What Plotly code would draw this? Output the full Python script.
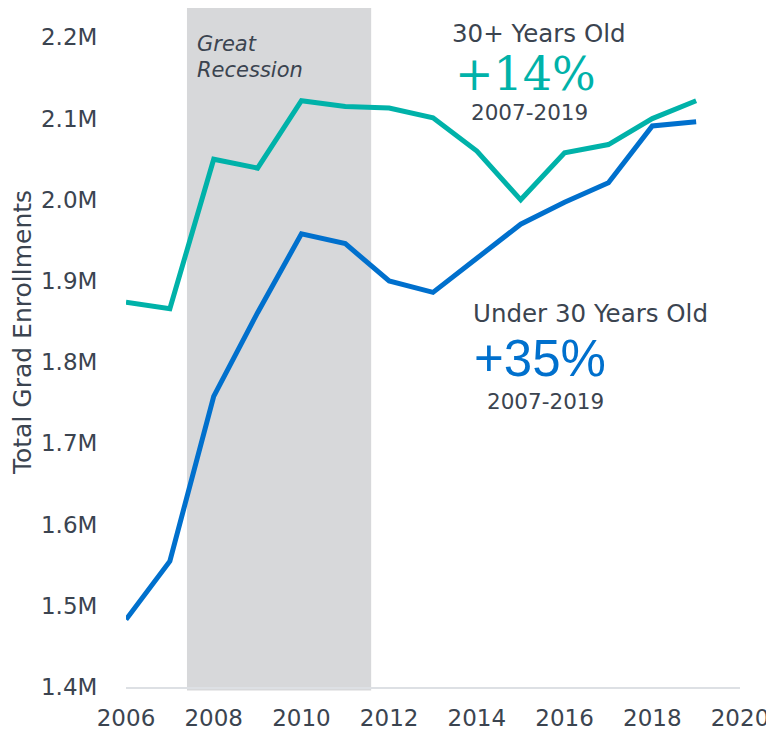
import plotly.graph_objects as go

years = [2006, 2007, 2008, 2009, 2010, 2011, 2012, 2013, 2014, 2015, 2016, 2017, 2018, 2019]
over30 = [1.874, 1.866, 2.050, 2.039, 2.122, 2.115, 2.113, 2.101, 2.060, 2.000, 2.058, 2.068, 2.100, 2.122]
under30 = [1.483, 1.555, 1.758, 1.861, 1.958, 1.946, 1.900, 1.886, 1.928, 1.970, 1.997, 2.021, 2.091, 2.096]
over30 = [v * 1e6 for v in over30]
under30 = [v * 1e6 for v in under30]
ytickvals = [1.4e6, 1.5e6, 1.6e6, 1.7e6, 1.8e6, 1.9e6, 2.0e6, 2.1e6, 2.2e6]
yticktext = ["1.4M", "1.5M", "1.6M", "1.7M", "1.8M", "1.9M", "2.0M", "2.1M", "2.2M"]

recession = [2007.39, 2011.59]
teal = "#00B2A9"
blue = "#0070CD"
txt = "#3B4450"

fig = go.Figure()
fig.add_shape(type="rect", xref="x", yref="paper", x0=recession[0], x1=recession[1],
              y0=-0.005, y1=1, fillcolor="#D7D8DA", line_width=0, layer="below")
fig.add_trace(go.Scatter(x=years, y=over30, mode="lines", line=dict(color=teal, width=5),
                         name="30+ Years Old", showlegend=False))
fig.add_trace(go.Scatter(x=years, y=under30, mode="lines", line=dict(color=blue, width=5),
                         name="Under 30 Years Old", showlegend=False))

def ann(text, x, y, size, color=txt, family="DejaVu Sans", xanchor="center"):
    fig.add_annotation(text=text, x=x, y=y, xref="x", yref="y", showarrow=False,
                       font=dict(size=size, color=color, family=family),
                       xanchor=xanchor, yanchor="middle", borderpad=0)

ann("<i>Great</i>", 2007.60, 2.1919e6, 21, xanchor="left")
ann("<i>Recession</i>", 2007.60, 2.1599e6, 21, xanchor="left")
ann("30+ Years Old", 2015.42, 2.2054e6, 24.5)
ann("+14%", 2015.10, 2.1550e6, 46, color=teal, family="DejaVu Serif")
ann("2007-2019", 2015.21, 2.1070e6, 21.5)
ann("Under 30 Years Old", 2016.58, 1.8594e6, 24.5)
ann("+35%", 2015.45, 1.8040e6, 51, color=blue, family="Liberation Sans")
ann("2007-2019", 2015.56, 1.7515e6, 21.5)

fig.add_annotation(text="Total Grad Enrollments", xref="paper", yref="paper",
                   x=-0.1694, y=0.5228, textangle=-90, showarrow=False,
                   xanchor="center", yanchor="middle",
                   font=dict(size=25, color=txt, family="DejaVu Sans"))

fig.update_layout(
    width=766, height=722,
    margin=dict(l=118, r=34, t=0, b=43),
    plot_bgcolor="white", paper_bgcolor="white",
    font=dict(family="DejaVu Sans", color=txt),
    xaxis=dict(range=[2006, 2020], dtick=2, tick0=2006, showgrid=False, zeroline=False,
               showline=True, linecolor="#DDE0E4", linewidth=2,
               tickfont=dict(size=23, color=txt), ticks="outside", ticklen=9,
               tickcolor="rgba(0,0,0,0)"),
    yaxis=dict(range=[1.4e6, 2.2362e6], tickvals=ytickvals, ticktext=yticktext,
               showgrid=False, zeroline=False, showline=False,
               tickfont=dict(size=23, color=txt), ticks="outside", ticklen=23,
               tickcolor="rgba(0,0,0,0)"),
)

fig.write_html("out.html")
